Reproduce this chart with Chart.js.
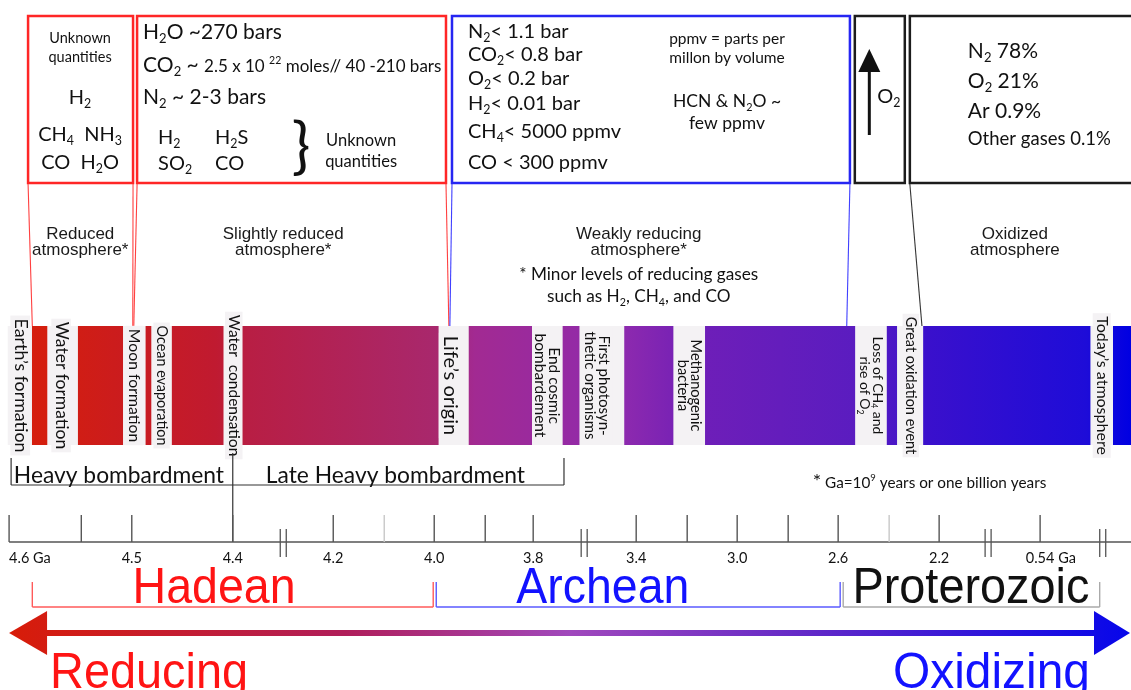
<!DOCTYPE html>
<html>
<head>
<meta charset="utf-8">
<title>Evolution of Earth's atmosphere</title>
<script src="https://cdn.jsdelivr.net/npm/chart.js@4.4.1/dist/chart.umd.min.js"></script>
<style>
  html, body { margin: 0; padding: 0; background: #fff; overflow: hidden; }
  #wrap { width: 1131px; height: 690px; }
</style>
</head>
<body>
<div id="wrap"><canvas id="timeline"></canvas></div>
<script>
// the time axis is broken in places, so x runs in "slots" (one slot = one tick pitch)
const xMin = -0.18;
const xMax = 22.22;

const tickLabels = ["4.6 Ga", "", "4.5", "4.4", "4.2", "", "4.0", "", "3.8", "3.4", "", "3.0", "", "2.6", "", "2.2", "0.54 Ga"];
const tickSlots = [0, 1.43, 2.43, 4.43, 6.42, 7.43, 8.42, 9.43, 10.38, 12.42, 13.43, 14.42, 15.43, 16.42, 17.43, 18.42, 20.42];
const breakSlots = [5.43, 11.39, 19.39, 21.66];

// coloured pieces of the band, the gaps between them hold the events
const bandStart = [0.46, 1.37, 2.71, 3.23, 4.62, 9.11, 10.97, 12.19, 13.79, 17.39, 18.11, 21.87];
const bandEnd = [0.75, 2.25, 2.81, 4.24, 8.50, 10.35, 11.29, 13.15, 16.75, 17.58, 21.41, 22.4];

const eventNames = [
  ["Earth’s formation"], ["Water formation"], ["Moon formation"], ["Ocean evaporation"],
  ["Water  condensation"], ["Life’s origin"], ["End cosmic", "bombardement"],
  ["First photosyn-", "thetic organisms"], ["Methanogenic", "bacteria"],
  ["Loss of CH_{4} and", "rise of O_{2}"], ["Great oxidation event"], ["Today’s atmosphere"]
];
const eventSlots = [0.22, 1.03, 2.48, 3.02, 4.45, 8.73, 10.65, 11.64, 13.47, 17.07, 17.86, 21.64];

const atmoNames = [["Reduced", "atmosphere*"], ["Slightly reduced", "atmosphere*"], ["Weakly reducing", "atmosphere*"], ["Oxidized", "atmosphere"]];
const atmoSlots = [1.41, 5.43, 12.47, 19.92];

const bombNames = ["Heavy bombardment", "Late Heavy bombardment"];
const bombStart = [0.04, 4.43];
const bombEnd = [4.43, 10.99];

const eonNames = ["Hadean", "Archean", "Proterozoic"];
const eonStart = [0.46, 8.46, 16.52];
const eonEnd = [8.40, 16.46, 21.6];
const eonLabelSlots = [4.06, 11.76, 19.05];

const boxStart = [0.376, 2.535, 8.772, 16.75, 17.84];
const boxEnd = [2.455, 8.653, 16.653, 17.74, 22.6];
// box edge -> band edge
const linkTop = [0.376, 2.455, 2.535, 8.653, 8.772, 16.653, 17.84];
const linkBottom = [0.46, 2.45, 2.47, 8.71, 8.73, 16.59, 18.08];

// styles
const MAIN = "Lato, 'Open Sans', sans-serif";
const ARIAL = "'Liberation Sans', Arial, sans-serif";
const boxColor = ["#ff2626", "#ff2626", "#2626f2", "#1c1c1c", "#1c1c1c"];
const linkColor = ["#ff4040", "#ff4040", "#ff4040", "#ff4040", "#4040ff", "#4040ff", "#333"];
const eventSize = [17.8, 17.5, 15.8, 14.4, 15.5, 20, 15.5, 15, 14.6, 14, 14.5, 16];
const eventLine = [1, 1, 1, 1, 1, 1, 0.88, 0.97, 0.92, 0.97, 1, 1];
const eonColor = ["#ff1414", "#1212ff", "#111"];
const eonLine = ["#ff5a5a", "#5a5aff", "#aaa"];
const eonWidth = [163, 173, 237];
const bandStops = [
  [0, "#d8200c"], [0.04, "#d41e0e"], [0.1, "#cc1c1c"], [0.19, "#c01a30"], [0.22, "#b81e44"],
  [0.39, "#a8286e"], [0.42, "#a22a92"], [0.55, "#8e2aae"], [0.62, "#6e1eb8"], [0.76, "#5a1cc0"],
  [0.82, "#3a10cc"], [0.96, "#1e0cd8"], [1, "#0000e2"]
];

const boxText = [
  [
    { t: "Unknown", dx: 52, y: 38, s: 14.5, a: "center" },
    { t: "quantities", dx: 52, y: 57, s: 14.5, a: "center" },
    { t: "H_{2}", dx: 52, y: 97, s: 20, a: "center" },
    { t: "CH_{4}  NH_{3}", dx: 52, y: 134, s: 20, a: "center" },
    { t: "CO  H_{2}O", dx: 52, y: 162, s: 20, a: "center" }
  ],
  [
    { t: "H_{2}O ~270 bars", dx: 6, y: 31, s: 21, a: "left" },
    { t: "CO_{2} ~ [17]2.5 x 10 ^{22} moles// 40 -210 bars", dx: 6, y: 64, s: 21, a: "left" },
    { t: "N_{2} ~ 2-3 bars", dx: 6, y: 96, s: 21, a: "left" },
    { t: "H_{2}", dx: 21, y: 137, s: 20, a: "left" },
    { t: "H_{2}S", dx: 78, y: 137, s: 20, a: "left" },
    { t: "SO_{2}", dx: 21, y: 163, s: 20, a: "left" },
    { t: "CO", dx: 78, y: 163, s: 20, a: "left" },
    { t: "Unknown", dx: 224, y: 140, s: 16.5, a: "center" },
    { t: "quantities", dx: 224, y: 161, s: 16.5, a: "center" }
  ],
  [
    { t: "N_{2}< 1.1 bar", dx: 16, y: 31, s: 20, a: "left" },
    { t: "CO_{2}< 0.8 bar", dx: 16, y: 54, s: 20, a: "left" },
    { t: "O_{2}< 0.2 bar", dx: 16, y: 78, s: 20, a: "left" },
    { t: "H_{2}< 0.01 bar", dx: 16, y: 103, s: 20, a: "left" },
    { t: "CH_{4}< 5000 ppmv", dx: 16, y: 131, s: 20, a: "left" },
    { t: "CO < 300 ppmv", dx: 16, y: 162, s: 20, a: "left" },
    { t: "ppmv = parts per", dx: 275, y: 38, s: 15.5, a: "center" },
    { t: "millon by volume", dx: 275, y: 57, s: 15.5, a: "center" },
    { t: "HCN & N_{2}O ~", dx: 275, y: 101, s: 17.5, a: "center" },
    { t: "few ppmv", dx: 275, y: 123, s: 17.5, a: "center" }
  ],
  [
    { t: "O_{2}", dx: 34, y: 96, s: 20, a: "center" }
  ],
  [
    { t: "N_{2} 78%", dx: 58, y: 50, s: 21, a: "left" },
    { t: "O_{2} 21%", dx: 58, y: 80, s: 21, a: "left" },
    { t: "Ar 0.9%", dx: 58, y: 110, s: 21, a: "left" },
    { t: "Other gases 0.1%", dx: 58, y: 138, s: 18.5, a: "left" }
  ]
];

// text with _{sub}, ^{sup} and [size] switches; y is the middle of the caps
function richText(ctx, str, x, y, size, align, family, color) {
  const parts = str.split(/(_\{[^}]*\}|\^\{[^}]*\}|\[\d+\])/).filter(p => p !== "");
  let base = size;
  const runs = [];
  for (const p of parts) {
    if (/^\[\d+\]$/.test(p)) { base = +p.slice(1, -1); continue; }
    if (p.startsWith("_{")) runs.push({ t: p.slice(2, -1), s: base * 0.62, dy: base * 0.2 });
    else if (p.startsWith("^{")) runs.push({ t: p.slice(2, -1), s: base * 0.62, dy: -base * 0.42 });
    else runs.push({ t: p, s: base, dy: 0 });
  }
  let w = 0;
  runs.forEach(r => { ctx.font = r.s + "px " + family; r.w = ctx.measureText(r.t).width; w += r.w; });
  let cx = align === "center" ? x - w / 2 : align === "right" ? x - w : x;
  const baseY = y + size * 0.36;
  ctx.fillStyle = color || "#111";
  ctx.textAlign = "left";
  ctx.textBaseline = "alphabetic";
  runs.forEach(r => {
    ctx.font = r.s + "px " + family;
    ctx.fillText(r.t, cx, baseY + r.dy);
    cx += r.w;
  });
  return w;
}

function seg(ctx, x1, y1, x2, y2, color, w) {
  ctx.beginPath();
  ctx.moveTo(x1, y1);
  ctx.lineTo(x2, y2);
  ctx.strokeStyle = color;
  ctx.lineWidth = w;
  ctx.stroke();
}

function fitted(ctx, text, x, y, size, width, align, color) {
  ctx.font = size + "px " + ARIAL;
  const sx = width / ctx.measureText(text).width;
  ctx.save();
  ctx.translate(x, y);
  ctx.scale(sx, 1);
  ctx.fillStyle = color;
  ctx.textAlign = align;
  ctx.textBaseline = "alphabetic";
  ctx.fillText(text, 0, 0);
  ctx.restore();
}

let gradCache = null;
function bandGradient(c) {
  const chart = c.chart;
  if (!chart.chartArea) return "#b02060";
  if (!gradCache) {
    const xs = chart.scales.x;
    gradCache = chart.ctx.createLinearGradient(xs.getPixelForValue(xMin), 0, xs.getPixelForValue(xMax), 0);
    bandStops.forEach(([f, col]) => gradCache.addColorStop(f, col));
  }
  return gradCache;
}

const diagram = {
  id: "diagram",
  afterDatasetsDraw(chart) {
    const ctx = chart.ctx;
    const xs = chart.scales.x;
    const px = v => xs.getPixelForValue(v);
    const top = chart.chartArea.top;
    const bottom = chart.chartArea.bottom;
    const mid = (top + bottom) / 2;
    ctx.save();

    // boxes above the band
    boxStart.forEach((s, i) => {
      ctx.strokeStyle = boxColor[i];
      ctx.lineWidth = 2.5;
      ctx.strokeRect(px(s), 16, px(boxEnd[i]) - px(s), 167);
    });
    linkTop.forEach((s, i) => seg(ctx, px(s), 184, px(linkBottom[i]), top, linkColor[i], 1.1));

    boxText.forEach((lines, i) => {
      const left = px(boxStart[i]);
      lines.forEach(l => richText(ctx, l.t, left + l.dx, l.y, l.s, l.a, MAIN));
    });
    // brace in box 2
    ctx.font = "62px " + MAIN;
    ctx.fillStyle = "#111";
    ctx.textAlign = "center";
    ctx.textBaseline = "middle";
    ctx.fillText("}", px(boxStart[1]) + 164, 147);

    // O2 arrow
    const ax = px(boxStart[3]) + 14.5;
    seg(ctx, ax, 135, ax, 66, "#111", 3);
    ctx.beginPath();
    ctx.moveTo(ax, 49);
    ctx.lineTo(ax - 11, 72);
    ctx.lineTo(ax + 11, 72);
    ctx.closePath();
    ctx.fillStyle = "#111";
    ctx.fill();

    // atmosphere labels
    atmoNames.forEach((lines, i) => {
      lines.forEach((t, j) => richText(ctx, t, px(atmoSlots[i]), 233 + j * 16, 17, "center", ARIAL, "#1a1a1a"));
    });
    richText(ctx, "* Minor levels of reducing gases", px(atmoSlots[2]), 274, 17.2, "center", MAIN);
    richText(ctx, "such as H_{2}, CH_{4}, and CO", px(atmoSlots[2]), 296, 17.2, "center", MAIN);

    // events written down the band
    eventNames.forEach((lines, i) => {
      const s = eventSize[i];
      const lh = s * eventLine[i];
      ctx.save();
      ctx.translate(px(eventSlots[i]), mid);
      ctx.rotate(Math.PI / 2);
      let w = 0;
      lines.forEach(t => { ctx.font = s + "px " + MAIN; w = Math.max(w, ctx.measureText(t.replace(/_\{|\}/g, "")).width); });
      const h = lines.length * lh + 2;
      ctx.fillStyle = "#f4f2f4";
      ctx.fillRect(-w / 2 - 3, -h / 2, w + 6, h);
      lines.forEach((t, j) => {
        const off = (j - (lines.length - 1) / 2) * lh;
        richText(ctx, t, 0, off - s * 0.05, s, "center", MAIN, "#111");
      });
      ctx.restore();
    });

    // bombardment brackets
    const by = 485;
    seg(ctx, px(bombStart[0]), 458, px(bombStart[0]), by, "#333", 1.2);
    seg(ctx, px(bombStart[0]), by, px(bombEnd[1]), by, "#333", 1.2);
    seg(ctx, px(bombEnd[1]), 458, px(bombEnd[1]), by, "#333", 1.2);
    seg(ctx, px(bombStart[1]), 453, px(bombStart[1]), 542, "#333", 1.2);
    bombNames.forEach((t, i) => {
      richText(ctx, t, (px(bombStart[i]) + px(bombEnd[i])) / 2 - 3, 475, 22.8, "center", MAIN);
    });
    richText(ctx, "*", 817, 481, 20, "center", MAIN);
    richText(ctx, "Ga=10^{9} years or one billion years", 825, 482, 15.3, "left", MAIN);

    // broken time axis
    const ay = 542;
    seg(ctx, px(tickSlots[0]), ay, chart.width, ay, "#555", 1.5);
    tickSlots.forEach((s, i) => {
      const light = i === 5 || i === 14;
      seg(ctx, px(s), 515, px(s), ay, light ? "#c8c8c8" : "#555", 1.4);
      const lab = tickLabels[i];
      if (!lab) return;
      const num = lab.split(" ")[0];
      ctx.font = "14.5px " + MAIN;
      const nw = ctx.measureText(num).width;
      const left = Math.max(px(tickSlots[0]), px(s) - nw / 2);
      richText(ctx, lab, left, 558, 14.5, "left", MAIN);
    });
    breakSlots.forEach(s => {
      const b = px(s);
      seg(ctx, b - 3, 529, b - 3, 557, "#555", 1.3);
      seg(ctx, b + 3, 529, b + 3, 557, "#555", 1.3);
    });

    // eon brackets
    eonNames.forEach((t, i) => {
      const l = px(eonStart[i]);
      const r = px(eonEnd[i]);
      seg(ctx, l, 607, r, 607, eonLine[i], 1.4);
      seg(ctx, l, 582, l, 607, eonLine[i], 1.4);
      seg(ctx, r, 582, r, 607, eonLine[i], 1.4);
      fitted(ctx, t, px(eonLabelSlots[i]), 603, 50, eonWidth[i], "center", eonColor[i]);
    });

    // reducing -> oxidizing arrow
    const l0 = px(0);
    const r0 = px(22.2);
    const g = ctx.createLinearGradient(l0, 0, r0, 0);
    g.addColorStop(0, "#d81c08");
    g.addColorStop(0.3, "#b01e5a");
    g.addColorStop(0.5, "#a048bc");
    g.addColorStop(0.72, "#6028c8");
    g.addColorStop(1, "#0606ea");
    const yA = 633;
    ctx.fillStyle = g;
    ctx.fillRect(l0 + 30, yA - 3, r0 - l0 - 60, 6);
    ctx.beginPath();
    ctx.moveTo(l0, yA);
    ctx.lineTo(l0 + 38, yA - 22);
    ctx.lineTo(l0 + 38, yA + 22);
    ctx.closePath();
    ctx.fill();
    ctx.beginPath();
    ctx.moveTo(r0, yA);
    ctx.lineTo(r0 - 36, yA - 22);
    ctx.lineTo(r0 - 36, yA + 22);
    ctx.closePath();
    ctx.fill();
    fitted(ctx, "Reducing", l0 + 41, 688, 50, 198, "left", "#ff1414");
    fitted(ctx, "Oxidizing", r0 - 40, 688, 50, 197, "right", "#1212ff");

    ctx.restore();
  }
};

const datasets = [{
  data: [[-0.02, xMax]],
  backgroundColor: "#f4f2f4",
  grouped: false,
  order: 10
}].concat(bandStart.map((s, i) => ({
  data: [[s, bandEnd[i]]],
  backgroundColor: bandGradient,
  grouped: false,
  order: 0
})));

new Chart(document.getElementById("timeline"), {
  type: "bar",
  data: { labels: ["band"], datasets: datasets },
  options: {
    indexAxis: "y",
    responsive: true,
    maintainAspectRatio: false,
    animation: false,
    layout: { padding: { top: 326, bottom: 245, left: 0, right: 0 } },
    datasets: { bar: { barPercentage: 1, categoryPercentage: 1, borderWidth: 0 } },
    scales: {
      x: { type: "linear", min: xMin, max: xMax, display: false },
      y: { display: false }
    },
    plugins: { legend: { display: false }, tooltip: { enabled: false } }
  },
  plugins: [diagram]
});
</script>
</body>
</html>
